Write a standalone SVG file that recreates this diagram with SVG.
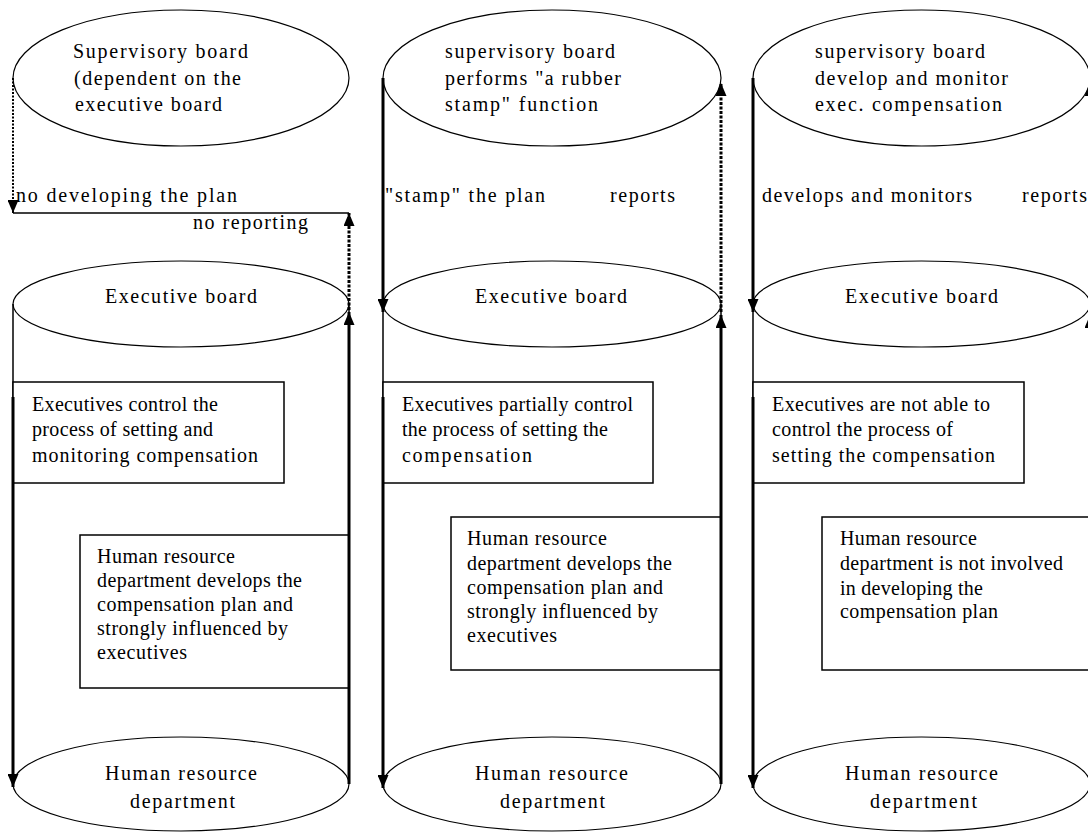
<svg xmlns="http://www.w3.org/2000/svg" width="1088" height="834" viewBox="0 0 1088 834" font-family="'Liberation Serif', 'Times New Roman', serif" font-size="20">
<defs>
<marker id="ah" markerUnits="userSpaceOnUse" markerWidth="13" markerHeight="11" refX="13" refY="5.5" orient="auto">
<path d="M0,0 L13,5.5 L0,11 z" fill="#000"/>
</marker>
<style>
text{font-family:"Liberation Serif","Times New Roman",serif;font-size:20px;fill:#000}
.ell{fill:none;stroke:#000;stroke-width:1.2}
.box{fill:#fff;stroke:#000;stroke-width:1.5}
.side{fill:none;stroke:#000;stroke-width:1.5}
.thick{fill:none;stroke:#000;stroke-width:3}
.dot{fill:none;stroke:#000;stroke-width:3;stroke-dasharray:3 1.5}
.dot2{fill:none;stroke:#000;stroke-width:2;stroke-dasharray:2 1.5}
.thin{fill:none;stroke:#000;stroke-width:1.5}
</style>
</defs>
<rect width="1088" height="834" fill="#fff"/>

<!-- cylinder sides -->
<g id="sides">
<line class="side" x1="13" y1="304" x2="13" y2="784"/>
<line class="side" x1="349" y1="304" x2="349" y2="784"/>
<line class="side" x1="383" y1="304" x2="383" y2="784"/>
<line class="side" x1="721" y1="304" x2="721" y2="784"/>
<line class="side" x1="753" y1="304" x2="753" y2="784"/>
<line class="side" x1="1090" y1="304" x2="1090" y2="784"/>
</g>

<!-- Column 1 -->
<g id="sup1">
<ellipse class="ell" cx="181" cy="78" rx="168" ry="68"/>
<text x="73" y="58" textLength="175" lengthAdjust="spacing">Supervisory board</text>
<text x="74" y="85" textLength="167" lengthAdjust="spacing">(dependent on the</text>
<text x="75" y="111" textLength="147" lengthAdjust="spacing">executive board</text>
</g>
<g id="exec1">
<ellipse class="ell" cx="181" cy="304" rx="168" ry="43"/>
<text x="105" y="303" textLength="152" lengthAdjust="spacing">Executive board</text>
</g>
<g id="box1a">
<rect class="box" x="13" y="382" width="271" height="101"/>
<text x="32" y="411" textLength="186" lengthAdjust="spacing">Executives control the</text>
<text x="32" y="436" textLength="181" lengthAdjust="spacing">process of setting and</text>
<text x="32" y="462" textLength="226" lengthAdjust="spacing">monitoring compensation</text>
</g>
<g id="box1b">
<rect class="box" x="80" y="535" width="269" height="153"/>
<text x="97" y="563" textLength="138" lengthAdjust="spacing">Human resource</text>
<text x="97" y="587" textLength="205" lengthAdjust="spacing">department develops the</text>
<text x="97" y="611" textLength="196" lengthAdjust="spacing">compensation plan and</text>
<text x="97" y="635" textLength="191" lengthAdjust="spacing">strongly influenced by</text>
<text x="97" y="659" textLength="90" lengthAdjust="spacing">executives</text>
</g>
<g id="hr1">
<ellipse class="ell" cx="181" cy="784" rx="168" ry="47"/>
<text x="105" y="780" textLength="152" lengthAdjust="spacing">Human resource</text>
<text x="130" y="808" textLength="105" lengthAdjust="spacing">department</text>
</g>

<!-- Column 2 -->
<g id="sup2">
<ellipse class="ell" cx="552" cy="78" rx="169" ry="68"/>
<text x="445" y="58" textLength="170" lengthAdjust="spacing">supervisory board</text>
<text x="445" y="85" textLength="176" lengthAdjust="spacing">performs "a rubber</text>
<text x="445" y="111" textLength="153" lengthAdjust="spacing">stamp" function</text>
</g>
<g id="exec2">
<ellipse class="ell" cx="552" cy="304" rx="169" ry="43"/>
<text x="475" y="303" textLength="152" lengthAdjust="spacing">Executive board</text>
</g>
<g id="box2a">
<rect class="box" x="383" y="382" width="270" height="101"/>
<text x="402" y="411" textLength="231" lengthAdjust="spacing">Executives partially control</text>
<text x="402" y="436" textLength="206" lengthAdjust="spacing">the process of setting the</text>
<text x="402" y="462" textLength="130" lengthAdjust="spacing">compensation</text>
</g>
<g id="box2b">
<rect class="box" x="451" y="517" width="270" height="153"/>
<text x="467" y="545" textLength="140" lengthAdjust="spacing">Human resource</text>
<text x="467" y="570" textLength="205" lengthAdjust="spacing">department develops the</text>
<text x="467" y="594" textLength="196" lengthAdjust="spacing">compensation plan and</text>
<text x="467" y="618" textLength="191" lengthAdjust="spacing">strongly influenced by</text>
<text x="467" y="642" textLength="90" lengthAdjust="spacing">executives</text>
</g>
<g id="hr2">
<ellipse class="ell" cx="552" cy="784" rx="169" ry="47"/>
<text x="475" y="780" textLength="153" lengthAdjust="spacing">Human resource</text>
<text x="500" y="808" textLength="105" lengthAdjust="spacing">department</text>
</g>

<!-- Column 3 -->
<g id="sup3">
<ellipse class="ell" cx="921.5" cy="78" rx="168.5" ry="68"/>
<text x="815" y="58" textLength="170" lengthAdjust="spacing">supervisory board</text>
<text x="815" y="85" textLength="193" lengthAdjust="spacing">develop and monitor</text>
<text x="815" y="111" textLength="187" lengthAdjust="spacing">exec. compensation</text>
</g>
<g id="exec3">
<ellipse class="ell" cx="921.5" cy="304" rx="168.5" ry="43"/>
<text x="845" y="303" textLength="153" lengthAdjust="spacing">Executive board</text>
</g>
<g id="box3a">
<rect class="box" x="753" y="382" width="271" height="101"/>
<text x="772" y="411" textLength="218" lengthAdjust="spacing">Executives are not able to</text>
<text x="772" y="436" textLength="181" lengthAdjust="spacing">control the process of</text>
<text x="772" y="462" textLength="223" lengthAdjust="spacing">setting the compensation</text>
</g>
<g id="box3b">
<rect class="box" x="822" y="517" width="270" height="153"/>
<text x="840" y="545" textLength="137" lengthAdjust="spacing">Human resource</text>
<text x="840" y="570" textLength="223" lengthAdjust="spacing">department is not involved</text>
<text x="840" y="595" textLength="143" lengthAdjust="spacing">in developing the</text>
<text x="840" y="618" textLength="158" lengthAdjust="spacing">compensation plan</text>
</g>
<g id="hr3">
<ellipse class="ell" cx="921.5" cy="784" rx="168.5" ry="47"/>
<text x="845" y="780" textLength="153" lengthAdjust="spacing">Human resource</text>
<text x="870" y="808" textLength="107" lengthAdjust="spacing">department</text>
</g>

<!-- connectors -->
<g id="connectors">
<line class="dot2" x1="13" y1="78" x2="13" y2="213" marker-end="url(#ah)"/>
<line class="thin" x1="13" y1="213" x2="349" y2="213"/>
<line class="dot" x1="349" y1="310" x2="349" y2="213" marker-end="url(#ah)"/>
<line class="thick" x1="349" y1="784" x2="349" y2="312" marker-end="url(#ah)"/>
<line class="thick" x1="13" y1="397" x2="13" y2="787" marker-end="url(#ah)"/>

<line class="thick" x1="383" y1="78" x2="383" y2="312" marker-end="url(#ah)"/>
<line class="dot" x1="721" y1="312" x2="721" y2="83" marker-end="url(#ah)"/>
<line class="thick" x1="721" y1="784" x2="721" y2="315" marker-end="url(#ah)"/>
<line class="thick" x1="383" y1="397" x2="383" y2="788" marker-end="url(#ah)"/>

<line class="thick" x1="753" y1="78" x2="753" y2="312" marker-end="url(#ah)"/>
<line class="dot" x1="1090" y1="312" x2="1090" y2="83" marker-end="url(#ah)"/>
<line class="thick" x1="1090" y1="784" x2="1090" y2="315" marker-end="url(#ah)"/>
<line class="thick" x1="753" y1="397" x2="753" y2="788" marker-end="url(#ah)"/>
</g>

<g id="labels">
<text x="16" y="202" textLength="221" lengthAdjust="spacing">no developing the plan</text>
<text x="193" y="229" textLength="115" lengthAdjust="spacing">no reporting</text>
<text x="385" y="202" textLength="160" lengthAdjust="spacing">"stamp" the plan</text>
<text x="610" y="202" textLength="65" lengthAdjust="spacing">reports</text>
<text x="762" y="202" textLength="210" lengthAdjust="spacing">develops and monitors</text>
<text x="1022" y="202" textLength="65" lengthAdjust="spacing">reports</text>
</g>
</svg>
